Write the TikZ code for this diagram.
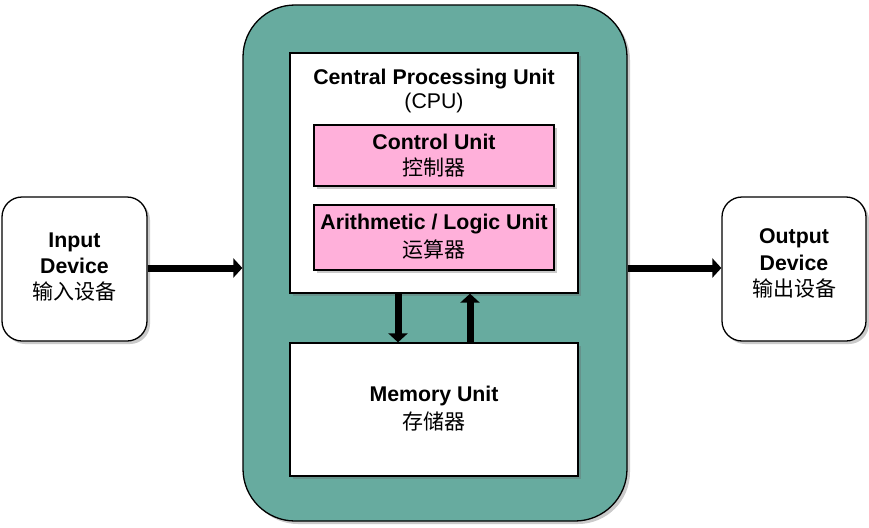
\documentclass[tikz,border=0pt]{standalone}
\usepackage{fontspec}
\setmainfont{Liberation Sans}
\newfontfamily\cjk{Noto Sans CJK SC}
\usetikzlibrary{arrows.meta,shadows}
\definecolor{teal1}{HTML}{67AB9F}
\definecolor{pink1}{HTML}{FFB0DA}
\tikzset{
  shd/.style={drop shadow={shadow xshift=3pt,shadow yshift=-3pt,opacity=0.35,fill=black!60}},
  boxw/.style={draw=black,line width=1.3pt,fill=white,shd,inner sep=0pt},
  boxp/.style={draw=black,line width=1.3pt,fill=pink1,shd,inner sep=0pt},
  dev/.style={draw=black,line width=1.3pt,fill=white,rounded corners=20pt,shd,inner sep=0pt},
  outer/.style={draw=black,line width=1.3pt,fill=teal1,rounded corners=52pt,shd,inner sep=0pt},
  lbl/.style={align=center,font=\fontsize{21.3}{24}\selectfont\bfseries},
  zh/.style={font=\fontsize{21}{24}\selectfont\cjk},
  conn/.style={line width=7pt,-{Triangle[length=9pt,width=19pt]}},
}
\begin{document}
\begin{tikzpicture}[x=1pt,y=-1pt]
\useasboundingbox (0,0) rectangle (869,527);
% outer teal
\node[outer,minimum width=384pt,minimum height=516pt] (outerbox) at (435,263) {};
% cpu
\node[boxw,minimum width=288pt,minimum height=240pt] (cpu) at (434,173) {};
\node[lbl] (cputitle) at (434,79) {Central Processing Unit};
\node[font=\fontsize{21.3}{24}\selectfont] (cpuabbr) at (434,103) {(CPU)};
% control
\node[boxp,minimum width=240pt,minimum height=61pt] (cu) at (434,155.5) {};
\node[lbl] (cut) at (434,142) {Control Unit};
\node[zh] (cuz) at (434,168) {控制器};
% alu
\node[boxp,minimum width=240pt,minimum height=65pt] (alu) at (434,237.5) {};
\node[lbl] (alut) at (434,224) {Arithmetic / Logic Unit};
\node[zh] (aluz) at (434,250) {运算器};
% memory
\node[boxw,minimum width=288pt,minimum height=133pt] (mem) at (434,409.5) {};
\node[lbl] (memt) at (434,396) {Memory Unit};
\node[zh] (memz) at (434,421) {存储器};
% input
\node[dev,minimum width=145pt,minimum height=144pt] (in) at (74.5,269) {};
\node[lbl] (in1) at (74.5,242) {Input};
\node[lbl] (in2) at (74.5,266) {Device};
\node[zh] (in3) at (74.5,292) {输入设备};
% output
\node[dev,minimum width=144pt,minimum height=144pt] (out) at (794,269) {};
\node[lbl] (out1) at (794,238) {Output};
\node[lbl] (out2) at (794,263) {Device};
\node[zh] (out3) at (794,289) {输出设备};
% connectors
\coordinate (a1) at (in.east |- 0,268);
\coordinate (a2) at (outerbox.west |- 0,268);
\draw[conn] (a1) -- (a2);
\coordinate (b1) at (outerbox.east |- 0,268);
\coordinate (b2) at (out.west |- 0,268);
\draw[conn] (b1) -- (b2);
\coordinate (c1) at (398,0 |- cpu.south);
\coordinate (c2) at (398,0 |- mem.north);
\draw[conn] (c1) -- (c2);
\coordinate (d1) at (470,0 |- mem.north);
\coordinate (d2) at (470,0 |- cpu.south);
\draw[conn] (d1) -- (d2);
\end{tikzpicture}
\end{document}
